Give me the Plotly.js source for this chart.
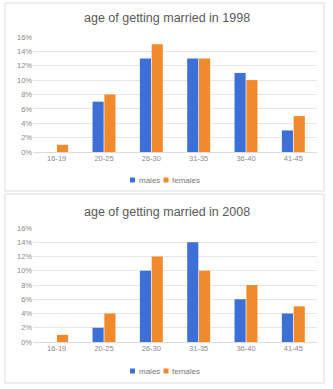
<!DOCTYPE html>
<html>
<head>
<meta charset="utf-8">
<script src="https://cdn.plot.ly/plotly-3.0.1.min.js"></script>
<style>html,body{margin:0;padding:0;background:#fff;}#chart{width:333px;height:389px;}</style>
</head>
<body>
<div id="chart"></div>
<script>
const categories = ["16-19", "20-25", "26-30", "31-35", "36-40", "41-45"];
const males1998 = [0, 0.07, 0.13, 0.13, 0.11, 0.03];
const females1998 = [0.01, 0.08, 0.15, 0.13, 0.10, 0.05];
const males2008 = [0, 0.02, 0.10, 0.14, 0.06, 0.04];
const females2008 = [0.01, 0.04, 0.12, 0.10, 0.08, 0.05];
const seriesNames = ["males", "females"];
const titles = ["age of getting married in 1998", "age of getting married in 2008"];
const yTicks = [0, 0.02, 0.04, 0.06, 0.08, 0.10, 0.12, 0.14, 0.16];
const yTickText = ["0%", "2%", "4%", "6%", "8%", "10%", "12%", "14%", "16%"];

const W = 333, H = 389;
const BLUE = "#3e6fd6", ORANGE = "#f08a2c";
const COLORS = [BLUE, ORANGE];
const px = v => v / W, py = v => 1 - v / H;
const FONT = "Liberation Sans, Arial, sans-serif";

const traces = [
  {type:"bar", x:categories, y:males1998, name:seriesNames[0], marker:{color:BLUE}, xaxis:"x", yaxis:"y"},
  {type:"bar", x:categories, y:females1998, name:seriesNames[1], marker:{color:ORANGE}, xaxis:"x", yaxis:"y"},
  {type:"bar", x:categories, y:males2008, name:seriesNames[0], marker:{color:BLUE}, xaxis:"x2", yaxis:"y2"},
  {type:"bar", x:categories, y:females2008, name:seriesNames[1], marker:{color:ORANGE}, xaxis:"x2", yaxis:"y2"}
];

const tickFont = {family:FONT, size:7.5, color:"#8a8a8a"};
function xAx(anchor){ return {anchor:anchor, domain:[px(33), px(317)], tickfont:tickFont, showgrid:false, zeroline:false, showline:false, ticks:"", fixedrange:true}; }
function yAx(anchor, top, bottom){ return {anchor:anchor, domain:[py(bottom), py(top)], range:[0,0.16], tickvals:yTicks, ticktext:yTickText, tickfont:tickFont, showgrid:true, gridcolor:"#e6e6e6", gridwidth:1, zeroline:true, zerolinecolor:"#dcdcdc", showline:false, ticks:"", fixedrange:true}; }

const annotations = [];
const shapes = [
  {type:"rect", xref:"paper", yref:"paper", x0:px(5), x1:px(324), y0:py(191), y1:py(3), line:{color:"#dcdcdc", width:1}},
  {type:"rect", xref:"paper", yref:"paper", x0:px(5), x1:px(324), y0:py(383), y1:py(194), line:{color:"#dcdcdc", width:1}}
];
const titleY = [18, 212];
const legendY = [180, 371];
for (let c = 0; c < 2; c++) {
  annotations.push({text:titles[c], xref:"paper", yref:"paper", x:0.5, y:py(titleY[c]), xanchor:"center", yanchor:"middle", showarrow:false, font:{family:FONT, size:12.5, color:"#595959"}});
  // legend: square + label for each series
  const sqX = [130, 163.5];
  const txX = [136.5, 170];
  for (let s = 0; s < 2; s++) {
    shapes.push({type:"rect", xref:"paper", yref:"paper", x0:px(sqX[s]), x1:px(sqX[s] + 5), y0:py(legendY[c] + 2.5), y1:py(legendY[c] - 2.5), fillcolor:COLORS[s], line:{width:0}});
    annotations.push({text:seriesNames[s], xref:"paper", yref:"paper", x:px(txX[s]), y:py(legendY[c]), xanchor:"left", yanchor:"middle", showarrow:false, font:{family:FONT, size:8, color:"#7a7a7a"}});
  }
}

const layout = {
  width:W, height:H,
  margin:{l:0, r:0, t:0, b:0},
  paper_bgcolor:"#fff", plot_bgcolor:"#fff",
  barmode:"group", bargap:0.5, bargroupgap:0.06,
  xaxis: xAx("y"), yaxis: yAx("x", 37, 152),
  xaxis2: xAx("y2"), yaxis2: yAx("x2", 228, 342),
  annotations: annotations,
  shapes: shapes,
  showlegend:false
};

Plotly.newPlot("chart", traces, layout, {staticPlot:true, displayModeBar:false});
</script>
</body>
</html>
